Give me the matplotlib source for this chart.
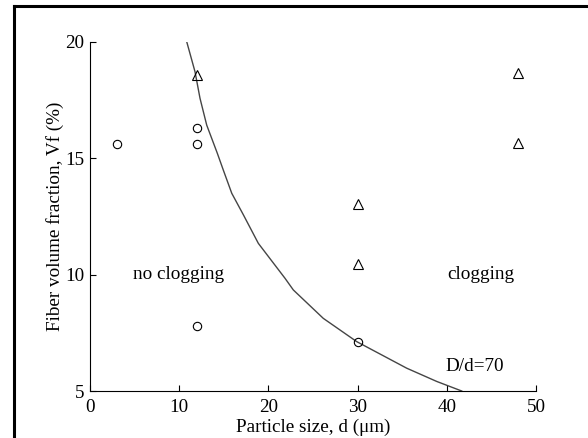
import matplotlib.pyplot as plt
from matplotlib.lines import Line2D

plt.rcParams['font.family'] = ['Liberation Serif', 'DejaVu Serif']

# no clogging points (circles)
d_open = [3, 12, 12, 12, 30]
vf_open = [15.6, 16.3, 15.6, 7.8, 7.1]

# clogging points (triangles)
d_clog = [12, 30, 30, 48, 48]
vf_clog = [18.55, 13.05, 10.45, 18.65, 15.65]

# boundary curve D/d=70
d_curve = [10.84, 11.77, 12.33, 13.08, 14.27, 14.94, 15.89, 17.20, 18.87,
           21.86, 22.79, 26.15, 29.9, 35.5, 38.87, 41.67]
vf_curve = [20.0, 18.71, 17.57, 16.42, 15.21, 14.49, 13.49, 12.56, 11.34,
            9.84, 9.34, 8.12, 7.12, 5.98, 5.41, 5.0]

xticks = [0, 10, 20, 30, 40, 50]
yticks = [5, 10, 15, 20]

fig = plt.figure(figsize=(5.88, 4.38), dpi=100)
ax = fig.add_axes([0.1531, 0.1073, 0.7585, 0.7975])

ax.plot(d_curve, vf_curve, color='#454545', linewidth=1.0)
ax.plot(d_open, vf_open, linestyle='none', marker='o', markersize=6,
        markerfacecolor='none', markeredgecolor='black', markeredgewidth=0.8)
ax.plot(d_clog, vf_clog, linestyle='none', marker='^', markersize=7,
        markerfacecolor='none', markeredgecolor='black', markeredgewidth=0.8)

ax.text(4.85, 10, 'no clogging', fontsize=13.8, va='center', ha='left')
ax.text(40, 10, 'clogging', fontsize=13.8, va='center', ha='left')
ax.text(39.9, 6.05, 'D/d=70', fontsize=13.8, va='center', ha='left')

ax.set_xlim(0, 50)
ax.set_ylim(5, 20)
ax.set_xticks(xticks)
ax.set_yticks(yticks)
ax.tick_params(direction='in', length=4, width=0.8, labelsize=13.8)
ax.tick_params(axis='x', pad=6)
ax.tick_params(axis='y', pad=4)
ax.spines['top'].set_visible(False)
ax.spines['right'].set_visible(False)
for s in ['left', 'bottom']:
    ax.spines[s].set_linewidth(0.8)

ax.set_xlabel('Particle size, d (\u03bcm)', fontsize=13.8, labelpad=2)
ax.set_ylabel('Fiber volume fraction, Vf (%)', fontsize=13.8, labelpad=1)

# outer frame (left and top edges)
fig.add_artist(Line2D([14 / 588, 14 / 588], [0, 1 - 6 / 438], color='black',
                      linewidth=2.2, transform=fig.transFigure))
fig.add_artist(Line2D([14 / 588, 1], [1 - 6 / 438, 1 - 6 / 438], color='black',
                      linewidth=2.2, transform=fig.transFigure))

fig.savefig('out.png', dpi=100)
